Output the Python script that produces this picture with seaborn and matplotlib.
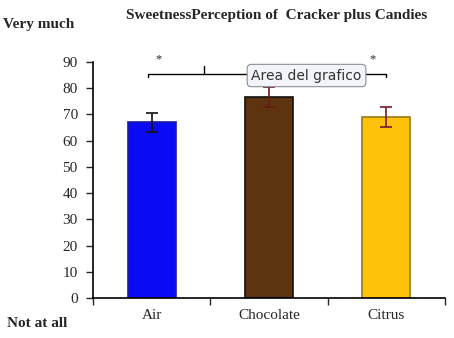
import pandas as pd
import seaborn as sns
import matplotlib.pyplot as plt
from matplotlib.ticker import FixedLocator, NullLocator

categories = ['Air', 'Chocolate', 'Citrus']
means = [67, 76.5, 69]
errors = [3.6, 3.8, 3.8]
bar_colors = ['#0a0af5', '#5e3410', '#ffc20a']
edge_colors = ['#1a1aa0', '#111111', '#9a7a10']
err_colors = ['#111111', '#6a1a14', '#7a1830']
y_ticks = list(range(0, 91, 10))

sns.set_style('white')
plt.rcParams['font.family'] = ['Liberation Serif', 'DejaVu Serif']

df = pd.DataFrame({'cond': categories, 'score': means})

fig = plt.figure(figsize=(4.54, 3.38), dpi=100)
ax = fig.add_axes([0.205, 0.118, 0.775, 0.699])

sns.barplot(data=df, x='cond', y='score', hue='cond', palette=bar_colors,
            width=0.41, legend=False, ax=ax, saturation=1)
for patch, ec in zip(ax.patches, edge_colors):
    patch.set_edgecolor(ec)
    patch.set_linewidth(1.2)

for i, (m, e, c) in enumerate(zip(means, errors, err_colors)):
    ax.errorbar(i, m, yerr=e, fmt='none', ecolor=c, elinewidth=1.2, capsize=4, capthick=1.2)

ax.set_xlim(-0.5, 2.5)
ax.set_ylim(0, 90)
ax.set_yticks(y_ticks)
ax.set_xlabel('')
ax.set_ylabel('')
sns.despine(ax=ax)
for s in ['left', 'bottom']:
    ax.spines[s].set_color('black')
    ax.spines[s].set_linewidth(1.2)

ax.xaxis.set_major_locator(FixedLocator([0, 1, 2]))
ax.xaxis.set_minor_locator(FixedLocator([-0.5, 0.5, 1.5, 2.5]))
ax.tick_params(axis='x', which='major', length=0, labelsize=11, pad=8)
ax.tick_params(axis='x', which='minor', length=5, width=1, direction='out', bottom=True)
ax.tick_params(axis='y', length=5, width=1, direction='out', left=True, labelsize=11, pad=6)

# significance bracket Air vs Citrus
sig_y = 85.5
x0, x1 = -0.03, 2.0
ax.plot([x0, x0, x1, x1], [sig_y - 1.3, sig_y, sig_y, sig_y - 1.3], color='black', lw=1, clip_on=False)
ax.plot([0.45, 0.45], [sig_y, sig_y + 2.8], color='black', lw=1, clip_on=False)
ax.text(0.06, sig_y + 3.2, '*', ha='center', va='bottom', fontsize=9, clip_on=False)
ax.text(1.88, sig_y + 3.2, '*', ha='center', va='bottom', fontsize=9, clip_on=False)

ax.text(1.32, 84.8, 'Area del grafico', ha='center', va='center', fontsize=10,
        family=['DejaVu Sans'], color='#333333', zorder=10,
        bbox=dict(boxstyle='round,pad=0.3,rounding_size=0.3', fc='#f2f4f9', ec='#8a8f99', lw=0.8))

fig.text(0.61, 0.955, 'SweetnessPerception of  Cracker plus Candies', ha='center', va='center',
         fontsize=11, fontweight='bold')
fig.text(0.007, 0.928, 'Very much', ha='left', va='center', fontsize=11, fontweight='bold')
fig.text(0.015, 0.044, 'Not at all', ha='left', va='center', fontsize=11, fontweight='bold')

fig.savefig('out.png', dpi=100)
